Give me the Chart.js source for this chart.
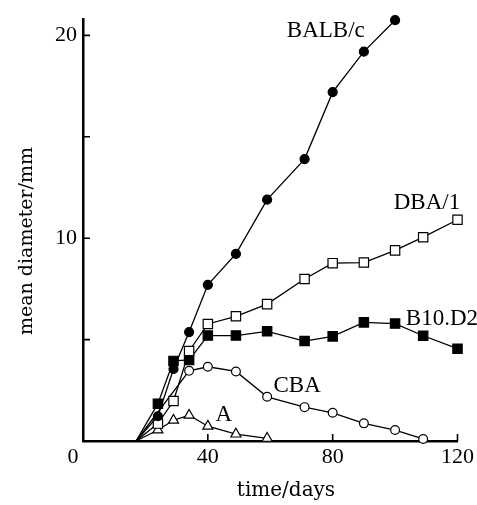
<!DOCTYPE html>
<html>
<head>
<meta charset="utf-8">
<script src="https://cdn.jsdelivr.net/npm/chart.js@4/dist/chart.umd.min.js"></script>
<style>
  html, body { margin: 0; padding: 0; background: #fff; }
  canvas { display: block; }
</style>
</head>
<body>
<canvas id="myChart" width="477" height="505"></canvas>
<script>
// strain names, in the order they are drawn
const strains = ["BALB/c", "DBA/1", "B10.D2", "CBA", "A"];

// days after inoculation (first entry is the common start, no marker)
const balbDays = [17, 24, 29, 34, 40, 49, 59, 71, 80, 90, 100];
const balbMm   = [0, 1.22, 3.55, 5.37, 7.7, 9.23, 11.9, 13.9, 17.2, 19.2, 20.75];

const dbaDays = [17, 24, 29, 34, 40, 49, 59, 71, 80, 90, 100, 109, 120];
const dbaMm   = [0, 0.86, 1.97, 4.44, 5.77, 6.15, 6.75, 7.99, 8.77, 8.8, 9.4, 10.05, 10.91];

const b10Days = [17, 24, 29, 34, 40, 49, 59, 71, 80, 90, 100, 109, 120];
const b10Mm   = [0, 1.84, 3.95, 4.0, 5.2, 5.2, 5.41, 4.93, 5.16, 5.85, 5.79, 5.19, 4.55];

const cbaDays = [17, 34, 40, 49, 59, 71, 80, 90, 100, 109];
const cbaMm   = [0, 3.46, 3.66, 3.43, 2.18, 1.67, 1.39, 0.87, 0.54, 0.1];

const aDays = [17, 24, 29, 34, 40, 49, 59];
const aMm   = [0, 0.54, 1.02, 1.27, 0.73, 0.34, 0.13];

// axis ticks
const xTicks = [0, 40, 80, 120];
const xTickLabels = ["", "40", "80", "120"];   // the origin "0" is drawn by hand, a bit to the left
const yTicks = [0, 5, 10, 15, 20];
const yTickLabels = ["", "", "10", "", "20"];

function toPoints(days, vals) {
    return days.map((d, i) => ({ x: d, y: vals[i] }));
}

function series(label, days, vals, style, filled, r) {
    return {
        label: label,
        data: toPoints(days, vals),
        showLine: true,
        borderColor: "#000",
        borderWidth: 1.3,
        pointStyle: style,
        pointRadius: ctx => ctx.dataIndex === 0 ? 0 : r,
        pointBackgroundColor: filled ? "#000" : "#fff",
        pointBorderColor: "#000",
        pointBorderWidth: 1.2,
        clip: false
    };
}

// inward tick marks, axis titles and the strain names
const decorations = {
    id: "decorations",
    afterDraw(chart) {
        const ctx = chart.ctx;
        const xs = chart.scales.x, ys = chart.scales.y;
        const left = chart.chartArea.left, bottom = chart.chartArea.bottom;
        ctx.save();
        ctx.strokeStyle = "#000";
        ctx.lineWidth = 1.6;
        ctx.beginPath();
        yTicks.forEach(v => {
            if (v === 0) return;
            const py = ys.getPixelForValue(v);
            ctx.moveTo(left, py);
            ctx.lineTo(left + 7, py);
        });
        xTicks.forEach(v => {
            if (v === 0) return;
            const px = xs.getPixelForValue(v);
            ctx.moveTo(px, bottom);
            ctx.lineTo(px, bottom - 7);
        });
        ctx.stroke();

        ctx.fillStyle = "#000";
        ctx.textAlign = "center";
        ctx.textBaseline = "middle";
        ctx.font = '22px "Liberation Serif"';
        ctx.fillText("0", left - 10, bottom + 16);

        ctx.font = '20px "DejaVu Serif"';
        ctx.fillText("time/days", 286, 491);
        ctx.save();
        ctx.translate(27, 241);
        ctx.rotate(-Math.PI / 2);
        ctx.font = '19px "DejaVu Serif"';
        ctx.fillText("mean diameter/mm", 0, 0);
        ctx.restore();

        ctx.font = '23px "Liberation Serif"';
        const spots = [[77.8, 20.2], [110.2, 11.76], [115, 6.0], [68.6, 2.73], [45.1, 1.27]];
        strains.forEach((name, i) => {
            ctx.fillText(name, xs.getPixelForValue(spots[i][0]), ys.getPixelForValue(spots[i][1]));
        });
        ctx.restore();
    }
};

new Chart("myChart", {
    type: "scatter",
    data: {
        datasets: [
            series(strains[0], balbDays, balbMm, "circle", true, 4.5),
            series(strains[1], dbaDays, dbaMm, "rect", false, 6.6),
            series(strains[2], b10Days, b10Mm, "rect", true, 6.6),
            series(strains[3], cbaDays, cbaMm, "circle", false, 4.4),
            series(strains[4], aDays, aMm, "triangle", false, 5.8)
        ]
    },
    options: {
        responsive: false,
        animation: false,
        devicePixelRatio: 1,
        layout: { padding: { top: 15, right: 19, left: 0, bottom: 0 } },
        plugins: {
            legend: { display: false },
            tooltip: { enabled: false }
        },
        scales: {
            x: {
                type: "linear",
                min: 0,
                max: 120,
                afterBuildTicks: s => { s.ticks = xTicks.map(v => ({ value: v })); },
                afterFit: s => { s.height = 64; },
                grid: { display: false, drawTicks: false },
                border: { display: true, color: "#000", width: 2.5 },
                ticks: {
                    color: "#000",
                    padding: 3,
                    maxRotation: 0,
                    font: { family: "Liberation Serif", size: 22 },
                    callback: (v, i) => xTickLabels[i]
                }
            },
            y: {
                type: "linear",
                min: 0,
                max: 20.8,
                afterBuildTicks: s => { s.ticks = yTicks.map(v => ({ value: v })); },
                afterFit: s => { s.width = 83; },
                grid: { display: false, drawTicks: false },
                border: { display: true, color: "#000", width: 2.5 },
                ticks: {
                    color: "#000",
                    padding: 6,
                    font: { family: "Liberation Serif", size: 22 },
                    callback: (v, i) => yTickLabels[i]
                }
            }
        }
    },
    plugins: [decorations]
});
</script>
</body>
</html>
